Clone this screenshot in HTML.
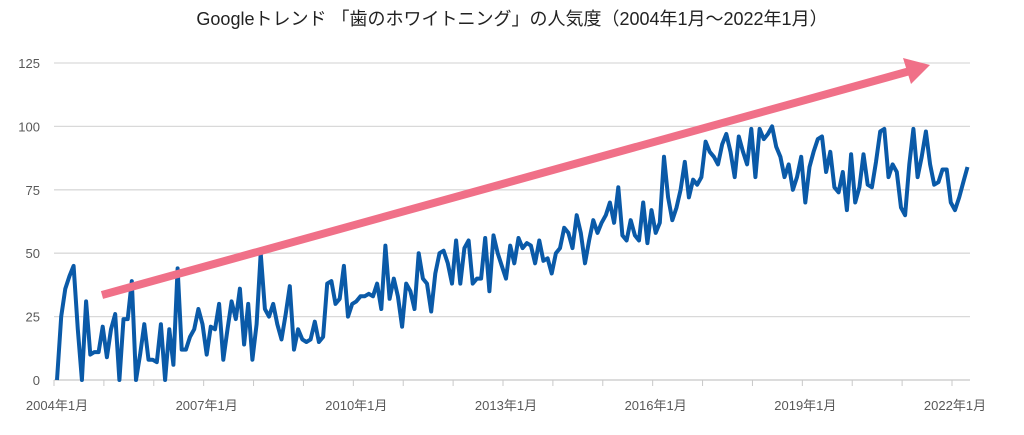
<!DOCTYPE html>
<html><head><meta charset="utf-8"><style>
body{margin:0;background:#fff;width:1024px;height:430px;overflow:hidden;font-family:"Liberation Sans","Noto Sans CJK JP",sans-serif}
</style></head><body>
<svg id="chart" width="1024" height="430" xmlns="http://www.w3.org/2000/svg">
<text x="512" y="25" text-anchor="middle" font-size="18" fill="#222" font-family="Liberation Sans, Noto Sans CJK JP, sans-serif">Googleトレンド 「歯のホワイトニング」の人気度（2004年1月～2022年1月）</text>
<g id="grid"></g>
<g id="axes"></g>
<polyline id="line" fill="none" stroke="#0a5aa8" stroke-width="4" stroke-linejoin="round"/>
<g>
<line x1="102" y1="295" x2="910" y2="71" stroke="#f07088" stroke-width="8"/>
<polygon points="930,65 903,58 911,84" fill="#f07088"/>
</g>
</svg>
<script>
const yTicks=[0,25,50,75,100,125];
const xLabels=["2004年1月","2007年1月","2010年1月","2013年1月","2016年1月","2019年1月","2022年1月"];
const values=[0,25,36,41,45,20,0,31,10,11,11,21,
9,20,26,0,24,24,39,0,10,22,8,8,
7,22,0,20,6,44,12,12,17,20,28,22,
10,21,20,30,8,20,31,24,36,14,30,8,
22,50,28,25,30,22,16,26,37,12,20,16,
15,16,23,15,17,38,39,30,32,45,25,30,
31,33,33,34,33,38,28,53,32,40,33,21,
38,35,28,50,40,38,27,42,50,51,46,38,
55,38,52,55,38,40,40,56,35,57,50,45,
40,53,46,56,52,54,53,46,55,47,48,42,
50,52,60,58,52,65,58,46,55,63,58,62,
65,70,62,76,57,55,63,57,55,70,54,67,
58,62,88,72,63,68,75,86,72,79,77,80,
94,90,88,85,93,97,90,80,96,90,85,99,
80,99,95,97,100,92,88,80,85,75,80,88,
70,84,90,95,96,82,90,76,74,82,67,89,
70,76,89,77,76,86,98,99,80,85,82,68,
65,85,99,80,88,98,85,77,78,83,83,70,
67,72,78,84];
const NS="http://www.w3.org/2000/svg";
const x=i=>57+i*(898/216);
const y=v=>380-v*(317/125);
const grid=document.getElementById('grid'),axes=document.getElementById('axes');
yTicks.forEach(t=>{
 const l=document.createElementNS(NS,'line');
 
 
 l.setAttribute('x1',54);l.setAttribute('x2',970);l.setAttribute('y1',y(t));l.setAttribute('y2',y(t));
 l.setAttribute('stroke',t===0?'#c8c8c8':'#d9d9d9');l.setAttribute('stroke-width',1.3);
 grid.appendChild(l);
 const tx=document.createElementNS(NS,'text');
 
 
 tx.setAttribute('x',40);tx.setAttribute('y',y(t)+5);tx.setAttribute('text-anchor','end');
 tx.setAttribute('font-size','13');tx.setAttribute('fill','#595959');tx.textContent=t;
 axes.appendChild(tx);
});
for(let m=0;m<=216;m+=12){
 const k=document.createElementNS(NS,'line');
 
 
 k.setAttribute('x1',x(m)-3);k.setAttribute('x2',x(m)-3);k.setAttribute('y1',380);k.setAttribute('y2',386);
 k.setAttribute('stroke','#c8c8c8');axes.appendChild(k);
}
xLabels.forEach((s,i)=>{
 const tx=document.createElementNS(NS,'text');
 
 
 tx.setAttribute('x',x(i*36));tx.setAttribute('y',410);tx.setAttribute('text-anchor','middle');
 tx.setAttribute('font-size','13');tx.setAttribute('fill','#595959');tx.textContent=s;
 axes.appendChild(tx);
});
document.getElementById('line').setAttribute('points',values.map((v,i)=>x(i).toFixed(1)+','+y(v).toFixed(1)).join(' '));
</script>
</body></html>
